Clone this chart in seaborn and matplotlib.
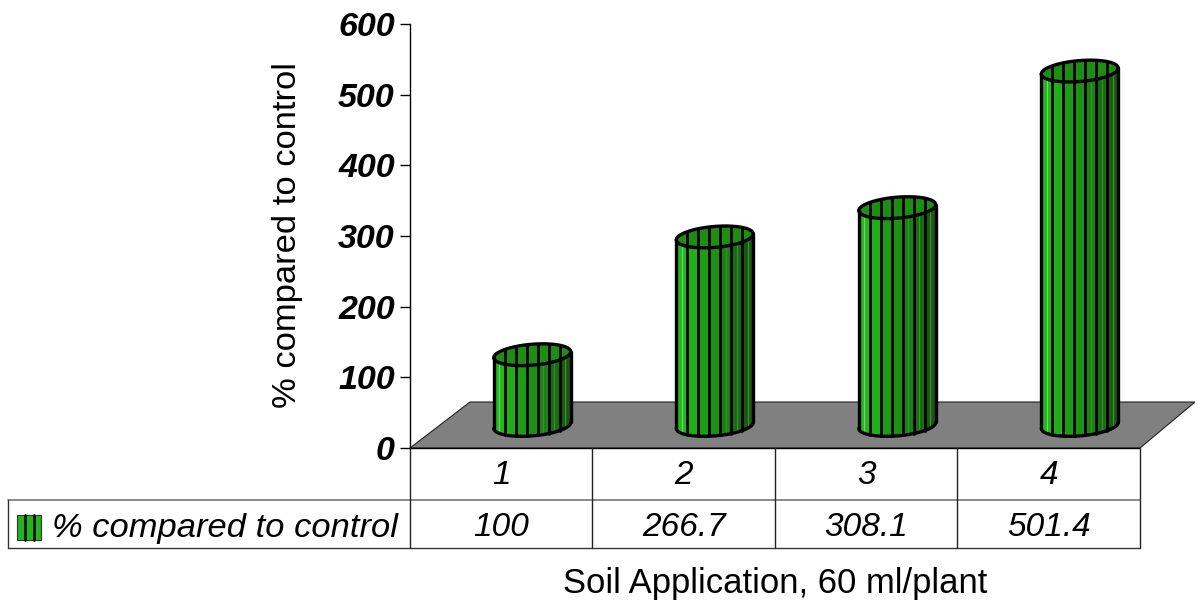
"""Soil application chart: pseudo 3D cylinders above a small data table."""

import matplotlib.pyplot as plt
import numpy as np
import pandas as pd
import seaborn as sns
from matplotlib.patches import Polygon, Rectangle

categories = ["1", "2", "3", "4"]
values = [100, 266.7, 308.1, 501.4]
value_labels = ["100", "266.7", "308.1", "501.4"]
y_ticks = [0, 100, 200, 300, 400, 500, 600]
series_name = "% compared to control"
x_title = "Soil Application, 60 ml/plant"

FIG_W, FIG_H = 1195, 600
LEFT, RIGHT, BASE, TOP = 410, 1140, 448, 24
CELL = (RIGHT - LEFT) / len(categories)
X_PER_PX = len(categories) / (RIGHT - LEFT)
Y_PER_PX = 600 / (BASE - TOP)

FLOOR_LIFT = 32  # cylinders stand on the floor, above the zero line
BAR_SHIFT = 31 * X_PER_PX
SIDE_COLORS = ["#25b81e", "#22ad1b", "#1f9b17", "#1e9016", "#1c8014", "#1a6c13", "#175a10"]
SHINE_ALPHA = [0.55, 0, 0, 0, 0.2, 0.25, 0.35]
INNER_COLOR = "#1f8c14"

sns.set_theme(style="white")
plt.rcParams["font.family"] = ["Liberation Sans", "DejaVu Sans"]


def back_curve(x, cx, cy, half_w):
    """Upper edge of a tilted ellipse, in data units."""
    u = (x - cx) / half_w
    return cy + (3 * u + 10.5 * np.sqrt(np.clip(1 - u**2, 0, 1))) * Y_PER_PX


def lower_edge(x, cx, cy, half_w):
    """Lower edge of a tilted ellipse, in data units."""
    u = (x - cx) / half_w
    return cy + (3 * u - 10.5 * np.sqrt(np.clip(1 - u**2, 0, 1))) * Y_PER_PX


def draw_cylinder(ax, bar):
    """Paint stripes, opening and outline over one seaborn bar."""
    x0, w = bar.get_x(), bar.get_width()
    cx, half_w = x0 + w / 2, w / 2
    y_low, y_high = bar.get_y(), bar.get_y() + bar.get_height()
    edges = np.linspace(x0, x0 + w, len(SIDE_COLORS) + 1)
    xs = np.linspace(x0, x0 + w, 200)

    # the plain rectangle must not poke out past the rounded ends
    shape = np.vstack([
        np.column_stack([xs, lower_edge(xs, cx, y_low, half_w)]),
        np.column_stack([xs[::-1], back_curve(xs[::-1], cx, y_high, half_w)]),
    ])
    bar.set_clip_path(Polygon(shape, closed=True, transform=ax.transData))

    for left, right, color, shine in zip(edges[:-1], edges[1:], SIDE_COLORS, SHINE_ALPHA):
        strip = np.linspace(left, right, 20)
        ax.fill_between(strip, lower_edge(strip, cx, y_low, half_w), lower_edge(strip, cx, y_high, half_w),
                        color=color, lw=0, zorder=3)
        if shine:
            mid = (left + right) / 2
            ax.plot([mid, mid], [lower_edge(mid, cx, y_low, half_w), lower_edge(mid, cx, y_high, half_w)],
                    color="#b8e8b0", lw=0.8, alpha=shine, zorder=3)
    ax.fill_between(xs, lower_edge(xs, cx, y_high, half_w), back_curve(xs, cx, y_high, half_w),
                    color=INNER_COLOR, lw=0, zorder=3)

    for edge in edges[1:-1]:
        ax.plot([edge, edge], [lower_edge(edge, cx, y_low, half_w), back_curve(edge, cx, y_high, half_w)],
                color="black", lw=2, zorder=4)

    ax.plot(xs, lower_edge(xs, cx, y_high, half_w), color="black", lw=2.4, zorder=5)
    ax.plot(xs, back_curve(xs, cx, y_high, half_w), color="black", lw=2.4, zorder=5)
    ax.plot(xs, lower_edge(xs, cx, y_low, half_w), color="black", lw=2.4, zorder=5)
    for side in (x0, x0 + w):
        ax.plot([side, side], [lower_edge(side, cx, y_low, half_w), lower_edge(side, cx, y_high, half_w)],
                color="black", lw=2.4, zorder=5)


data = pd.DataFrame({"position": np.arange(len(values)) + BAR_SHIFT, "value": values})

fig = plt.figure(figsize=(FIG_W / 100, FIG_H / 100), dpi=100)
ax = fig.add_axes([LEFT / FIG_W, 1 - BASE / FIG_H, (RIGHT - LEFT) / FIG_W, (BASE - TOP) / FIG_H])
ax.patch.set_alpha(0)

sns.barplot(data=data, x="position", y="value", native_scale=True, width=77 * X_PER_PX,
            bottom=FLOOR_LIFT, color="#1f9b17", saturation=1, ax=ax, zorder=2)

# grey floor in axes data units
floor = [(-0.5, 0), (-0.5 + 60 * X_PER_PX, 46 * Y_PER_PX),
         (-0.5 + 785 * X_PER_PX, 46 * Y_PER_PX), (-0.5 + 730 * X_PER_PX, 0)]
ax.add_patch(Polygon(floor, closed=True, facecolor="#808080", edgecolor="#222222", lw=0.8,
                     clip_on=False, zorder=1))

for bar in list(ax.patches):
    if isinstance(bar, Rectangle):
        draw_cylinder(ax, bar)
for artist in ax.collections + ax.lines:
    artist.set_clip_on(False)

ax.set_xlim(-0.5, len(categories) - 0.5)
ax.set_ylim(0, 600)
ax.set_yticks(y_ticks)
ax.set_xticks([])
ax.set_xlabel("")
ax.set_ylabel("")
ax.tick_params(axis="y", left=True, length=7, width=1, color="black", pad=4)
for label in ax.get_yticklabels():
    label.set(fontsize=24.5, fontweight="bold", fontstyle="italic", color="black")
sns.despine(ax=ax, bottom=True)
ax.spines["left"].set(color="black", linewidth=1)

# table and titles sit on a full figure overlay in pixel units
over = fig.add_axes([0, 0, 1, 1], zorder=5)
over.set_xlim(0, FIG_W)
over.set_ylim(FIG_H, 0)
over.axis("off")

over.plot([LEFT, RIGHT], [BASE, BASE], color="black", lw=1)
over.plot([8, RIGHT], [500, 500], color="#777777", lw=1.2)
over.plot([8, RIGHT], [548, 548], color="#333333", lw=1)
over.plot([8, 8], [500, 548], color="#333333", lw=1)
for i in range(len(categories) + 1):
    over.plot([LEFT + i * CELL] * 2, [BASE, 548], color="#222222", lw=1)

cell_style = dict(fontsize=24, fontstyle="italic", color="black", ha="center", va="center")
for i, (cat, val) in enumerate(zip(categories, value_labels)):
    center = LEFT + (i + 0.5) * CELL
    over.text(center, 476, cat, **cell_style)
    over.text(center, 528, val, **cell_style)

over.add_patch(Rectangle((17, 515), 24, 25, facecolor="#22b51c", edgecolor="#333333", lw=0.8))
for line_x in (25, 34):
    over.plot([line_x, line_x], [515, 540], color="black", lw=1.8)
over.text(52, 528, series_name, fontsize=24.8, fontstyle="italic", color="black", va="center")

over.text(288, 235, series_name, fontsize=24.8, rotation=90, color="black", ha="center", va="center")
over.text(775, 583, x_title, fontsize=24.9, color="black", ha="center", va="center")

fig.savefig("out.png", dpi=100)
plt.close(fig)
